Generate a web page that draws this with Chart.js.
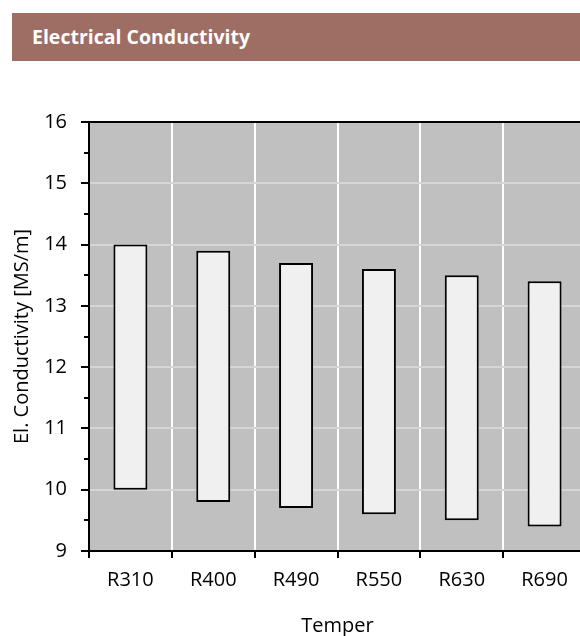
<!DOCTYPE html>
<html>
<head>
<meta charset="utf-8">
<script src="https://cdn.jsdelivr.net/npm/chart.js@4/dist/chart.umd.min.js"></script>
<style>
  html, body { margin: 0; padding: 0; width: 580px; height: 636px; overflow: hidden; background: #ffffff; }
  #hdr { position: absolute; left: 12px; top: 13px; width: 580px; height: 48px; background: #9e6d64;
         color: #ffffff; font-family: "Open Sans", sans-serif; font-weight: bold; font-size: 19.5px;
         line-height: 48px; padding-left: 20px; box-sizing: border-box; white-space: nowrap; }
  #wrap { position: absolute; left: 0; top: 0; width: 600px; height: 636px; }
</style>
</head>
<body>
<div id="hdr">Electrical Conductivity</div>
<div id="wrap"><canvas id="c" width="600" height="636"></canvas></div>
<script>
// ---- data ----
const chartTitle = "Electrical Conductivity";
const tempers = ["R310", "R400", "R490", "R550", "R630", "R690"];
const conductivityMin = [10.0, 9.8, 9.7, 9.6, 9.5, 9.4];
const conductivityMax = [14.0, 13.9, 13.7, 13.6, 13.5, 13.4];
const yTitle = "El. Conductivity [MS/m]";
const xTitle = "Temper";
const yMin = 9, yMax = 16;

const ranges = tempers.map((t, i) => [conductivityMin[i], conductivityMax[i]]);
const FONT = "'Open Sans', sans-serif";

const plotBg = {
  id: 'plotBg',
  beforeDraw(chart) {
    const a = chart.chartArea, ctx = chart.ctx;
    ctx.save();
    ctx.fillStyle = '#c0c0c0';
    ctx.fillRect(a.left, a.top, a.right - a.left, a.bottom - a.top);
    ctx.restore();
  },
  afterDraw(chart) {
    const a = chart.chartArea, ctx = chart.ctx;
    const y = chart.scales.y;
    ctx.save();
    ctx.strokeStyle = '#000';
    ctx.lineWidth = 2;
    // top border
    ctx.beginPath();
    ctx.moveTo(a.left - 1, a.top);
    ctx.lineTo(a.right + 1, a.top);
    ctx.stroke();
    // minor ticks
    for (let v = yMin + 0.5; v < yMax; v += 1) {
      const py = Math.round(y.getPixelForValue(v));
      ctx.beginPath();
      ctx.moveTo(a.left - 5, py);
      ctx.lineTo(a.left, py);
      ctx.stroke();
    }
    ctx.restore();
  }
};

new Chart(document.getElementById('c'), {
  type: 'bar',
  data: {
    labels: tempers,
    datasets: [{
      label: chartTitle,
      data: ranges,
      backgroundColor: '#f0f0f0',
      borderColor: '#000000',
      borderWidth: 2,
      borderSkipped: false,
      categoryPercentage: 1.0,
      barPercentage: 0.41
    }]
  },
  options: {
    responsive: false,
    animation: false,
    layout: { padding: { top: 122, right: 14, left: 0, bottom: 0 } },
    plugins: { legend: { display: false }, tooltip: { enabled: false }, title: { display: false } },
    scales: {
      x: {
        afterFit(s) { s.height = 85; },
        grid: { offset: true, color: '#ffffff', lineWidth: 2, drawTicks: true, tickLength: 7, tickColor: '#000000', tickWidth: 2 },
        border: { display: true, color: '#000000', width: 2 },
        ticks: { color: '#000000', font: { family: FONT, size: 20 }, padding: 10, maxRotation: 0 },
        title: { display: true, text: xTitle, color: '#000000', font: { family: FONT, size: 20, lineHeight: 1 }, padding: { top: 0, bottom: 0 } }
      },
      y: {
        min: yMin, max: yMax,
        afterFit(s) { s.width = 89; },
        grid: {
          color: (c) => (Number.isInteger(c.tick.value) ? '#d6d6d6' : 'rgba(0,0,0,0)'),
          tickColor: (c) => (Number.isInteger(c.tick.value) ? '#000000' : 'rgba(0,0,0,0)'),
          lineWidth: 2, tickLength: 8, tickWidth: 2
        },
        border: { display: true, color: '#000000', width: 2 },
        ticks: {
          stepSize: 0.5, autoSkip: false, padding: 14, color: '#000000',
          font: { family: FONT, size: 20 },
          callback: (v) => (Number.isInteger(v) ? String(v) : '')
        },
        title: { display: true, text: yTitle, color: '#000000', font: { family: FONT, size: 20, lineHeight: 1 }, padding: { top: 12, bottom: 0 } }
      }
    }
  },
  plugins: [plotBg]
});
</script>
</body>
</html>
